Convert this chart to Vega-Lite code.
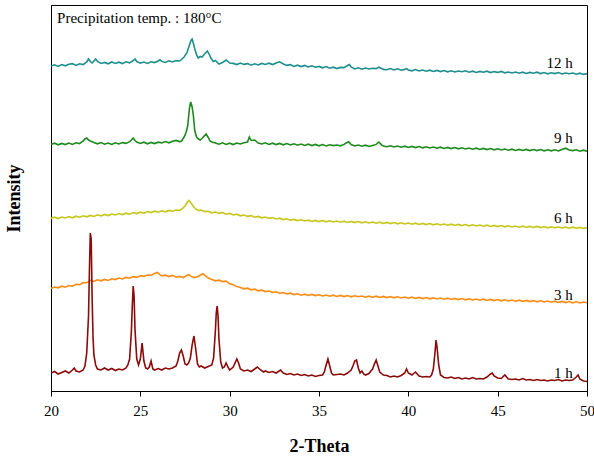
{
"$schema": "https://vega.github.io/schema/vega-lite/v6.json",
"width": 536, "height": 386,
"autosize": {"type": "none"},
"padding": {"left": 51, "top": 5, "right": 7, "bottom": 65},
"background": "white",
"config": {"view": {"stroke": "black", "strokeWidth": 1}, "font": "Liberation Serif"},
"datasets": {
"xrd": [
{"t":"12 h","x":20.0,"y":325},{"t":"12 h","x":20.2,"y":326.2},{"t":"12 h","x":20.4,"y":324.6},{"t":"12 h","x":20.6,"y":326.5},{"t":"12 h","x":20.8,"y":325.2},{"t":"12 h","x":21.0,"y":326.8},{"t":"12 h","x":21.2,"y":327.4},{"t":"12 h","x":21.4,"y":325.6},{"t":"12 h","x":21.6,"y":327.2},{"t":"12 h","x":21.8,"y":326.4},{"t":"12 h","x":22.0,"y":329},{"t":"12 h","x":22.1,"y":332},{"t":"12 h","x":22.2,"y":329.5},{"t":"12 h","x":22.3,"y":328},{"t":"12 h","x":22.4,"y":330},{"t":"12 h","x":22.5,"y":332},{"t":"12 h","x":22.6,"y":329.5},{"t":"12 h","x":22.8,"y":327.5},{"t":"12 h","x":23.0,"y":328.6},{"t":"12 h","x":23.2,"y":327.2},{"t":"12 h","x":23.4,"y":329},{"t":"12 h","x":23.6,"y":327.6},{"t":"12 h","x":23.8,"y":328.8},{"t":"12 h","x":24.0,"y":327.4},{"t":"12 h","x":24.2,"y":329.2},{"t":"12 h","x":24.4,"y":328.2},{"t":"12 h","x":24.6,"y":330.5},{"t":"12 h","x":24.7,"y":332},{"t":"12 h","x":24.8,"y":329.5},{"t":"12 h","x":25.0,"y":327.8},{"t":"12 h","x":25.2,"y":329},{"t":"12 h","x":25.4,"y":327.6},{"t":"12 h","x":25.6,"y":329.2},{"t":"12 h","x":25.8,"y":328.4},{"t":"12 h","x":26.0,"y":330},{"t":"12 h","x":26.1,"y":331.2},{"t":"12 h","x":26.2,"y":329.6},{"t":"12 h","x":26.4,"y":328.6},{"t":"12 h","x":26.6,"y":330.2},{"t":"12 h","x":26.8,"y":329},{"t":"12 h","x":27.0,"y":330.4},{"t":"12 h","x":27.2,"y":330},{"t":"12 h","x":27.3,"y":331.5},{"t":"12 h","x":27.45,"y":334},{"t":"12 h","x":27.6,"y":338},{"t":"12 h","x":27.75,"y":346},{"t":"12 h","x":27.85,"y":351},{"t":"12 h","x":27.9,"y":352},{"t":"12 h","x":27.95,"y":349},{"t":"12 h","x":28.05,"y":342},{"t":"12 h","x":28.15,"y":336},{"t":"12 h","x":28.24,"y":333},{"t":"12 h","x":28.35,"y":334.5},{"t":"12 h","x":28.45,"y":334},{"t":"12 h","x":28.6,"y":337},{"t":"12 h","x":28.75,"y":340},{"t":"12 h","x":28.85,"y":337},{"t":"12 h","x":28.95,"y":333},{"t":"12 h","x":29.08,"y":329.5},{"t":"12 h","x":29.2,"y":330.5},{"t":"12 h","x":29.4,"y":327},{"t":"12 h","x":29.6,"y":328.5},{"t":"12 h","x":29.8,"y":331},{"t":"12 h","x":30.0,"y":328},{"t":"12 h","x":30.2,"y":327.6},{"t":"12 h","x":30.4,"y":326.4},{"t":"12 h","x":30.6,"y":328},{"t":"12 h","x":30.8,"y":326.6},{"t":"12 h","x":31.0,"y":327.4},{"t":"12 h","x":31.2,"y":325.8},{"t":"12 h","x":31.4,"y":327.2},{"t":"12 h","x":31.6,"y":326},{"t":"12 h","x":31.8,"y":327.6},{"t":"12 h","x":32.0,"y":326.6},{"t":"12 h","x":32.2,"y":327.8},{"t":"12 h","x":32.4,"y":326.4},{"t":"12 h","x":32.6,"y":328},{"t":"12 h","x":32.8,"y":329.2},{"t":"12 h","x":33.0,"y":327},{"t":"12 h","x":33.2,"y":325.6},{"t":"12 h","x":33.4,"y":326.4},{"t":"12 h","x":33.6,"y":324.6},{"t":"12 h","x":33.8,"y":325.8},{"t":"12 h","x":34.0,"y":324.4},{"t":"12 h","x":34.2,"y":325.6},{"t":"12 h","x":34.4,"y":324},{"t":"12 h","x":34.6,"y":325.2},{"t":"12 h","x":34.8,"y":323.8},{"t":"12 h","x":35.0,"y":324.6},{"t":"12 h","x":35.2,"y":323.2},{"t":"12 h","x":35.4,"y":324.4},{"t":"12 h","x":35.6,"y":322.8},{"t":"12 h","x":35.8,"y":323.8},{"t":"12 h","x":36.0,"y":322.4},{"t":"12 h","x":36.2,"y":323.6},{"t":"12 h","x":36.4,"y":323.4},{"t":"12 h","x":36.6,"y":325.5},{"t":"12 h","x":36.7,"y":326.5},{"t":"12 h","x":36.8,"y":324},{"t":"12 h","x":37.0,"y":322},{"t":"12 h","x":37.2,"y":323.2},{"t":"12 h","x":37.4,"y":321.8},{"t":"12 h","x":37.6,"y":323},{"t":"12 h","x":37.8,"y":322},{"t":"12 h","x":38.0,"y":322.8},{"t":"12 h","x":38.2,"y":322.4},{"t":"12 h","x":38.35,"y":323.8},{"t":"12 h","x":38.5,"y":322.6},{"t":"12 h","x":38.6,"y":321.6},{"t":"12 h","x":38.8,"y":321.2},{"t":"12 h","x":39.0,"y":322.4},{"t":"12 h","x":39.2,"y":321},{"t":"12 h","x":39.4,"y":322.2},{"t":"12 h","x":39.6,"y":320.8},{"t":"12 h","x":39.8,"y":321.6},{"t":"12 h","x":39.9,"y":322.4},{"t":"12 h","x":40.0,"y":321},{"t":"12 h","x":40.2,"y":320.2},{"t":"12 h","x":40.4,"y":321.4},{"t":"12 h","x":40.6,"y":320},{"t":"12 h","x":40.8,"y":321},{"t":"12 h","x":41.0,"y":319.8},{"t":"12 h","x":41.2,"y":320.8},{"t":"12 h","x":41.4,"y":319.6},{"t":"12 h","x":41.6,"y":320.6},{"t":"12 h","x":41.8,"y":319.4},{"t":"12 h","x":42.0,"y":320.4},{"t":"12 h","x":42.2,"y":319.2},{"t":"12 h","x":42.4,"y":320.2},{"t":"12 h","x":42.6,"y":319},{"t":"12 h","x":42.8,"y":320},{"t":"12 h","x":43.0,"y":319.2},{"t":"12 h","x":43.2,"y":320.2},{"t":"12 h","x":43.4,"y":318.8},{"t":"12 h","x":43.6,"y":319.8},{"t":"12 h","x":43.8,"y":318.6},{"t":"12 h","x":44.0,"y":319.6},{"t":"12 h","x":44.2,"y":318.8},{"t":"12 h","x":44.4,"y":319.8},{"t":"12 h","x":44.6,"y":318.4},{"t":"12 h","x":44.8,"y":319.4},{"t":"12 h","x":45.0,"y":318.6},{"t":"12 h","x":45.2,"y":319.6},{"t":"12 h","x":45.4,"y":318.2},{"t":"12 h","x":45.6,"y":319},{"t":"12 h","x":45.8,"y":318},{"t":"12 h","x":46.0,"y":319},{"t":"12 h","x":46.2,"y":317.8},{"t":"12 h","x":46.4,"y":318.8},{"t":"12 h","x":46.6,"y":317.6},{"t":"12 h","x":46.8,"y":318.6},{"t":"12 h","x":47.0,"y":317.8},{"t":"12 h","x":47.2,"y":318.8},{"t":"12 h","x":47.4,"y":317.4},{"t":"12 h","x":47.6,"y":318.4},{"t":"12 h","x":47.8,"y":317.2},{"t":"12 h","x":48.0,"y":318.2},{"t":"12 h","x":48.2,"y":317.4},{"t":"12 h","x":48.4,"y":318.4},{"t":"12 h","x":48.6,"y":317},{"t":"12 h","x":48.8,"y":318},{"t":"12 h","x":49.0,"y":317.2},{"t":"12 h","x":49.2,"y":318},{"t":"12 h","x":49.4,"y":316.8},{"t":"12 h","x":49.6,"y":317.8},{"t":"12 h","x":49.8,"y":316.6},{"t":"12 h","x":50.0,"y":317.4},

{"t":"9 h","x":20.0,"y":246.5},{"t":"9 h","x":20.2,"y":247.8},{"t":"9 h","x":20.4,"y":246.2},{"t":"9 h","x":20.6,"y":247.6},{"t":"9 h","x":20.8,"y":246.4},{"t":"9 h","x":21.0,"y":248},{"t":"9 h","x":21.2,"y":246.6},{"t":"9 h","x":21.4,"y":248.2},{"t":"9 h","x":21.6,"y":247.4},{"t":"9 h","x":21.8,"y":250},{"t":"9 h","x":21.9,"y":252},{"t":"9 h","x":22.0,"y":253},{"t":"9 h","x":22.1,"y":251},{"t":"9 h","x":22.2,"y":250},{"t":"9 h","x":22.4,"y":248.6},{"t":"9 h","x":22.6,"y":247.2},{"t":"9 h","x":22.8,"y":248.4},{"t":"9 h","x":23.0,"y":246.8},{"t":"9 h","x":23.2,"y":248},{"t":"9 h","x":23.4,"y":246.6},{"t":"9 h","x":23.6,"y":248.2},{"t":"9 h","x":23.8,"y":247},{"t":"9 h","x":24.0,"y":248.4},{"t":"9 h","x":24.2,"y":247.6},{"t":"9 h","x":24.4,"y":249.4},{"t":"9 h","x":24.5,"y":251},{"t":"9 h","x":24.6,"y":253},{"t":"9 h","x":24.7,"y":250.5},{"t":"9 h","x":24.8,"y":249},{"t":"9 h","x":25.0,"y":247.6},{"t":"9 h","x":25.2,"y":248.8},{"t":"9 h","x":25.4,"y":247.2},{"t":"9 h","x":25.6,"y":248.6},{"t":"9 h","x":25.8,"y":247.4},{"t":"9 h","x":26.0,"y":248.8},{"t":"9 h","x":26.2,"y":248},{"t":"9 h","x":26.4,"y":249.4},{"t":"9 h","x":26.6,"y":248.2},{"t":"9 h","x":26.8,"y":249.8},{"t":"9 h","x":27.0,"y":250.6},{"t":"9 h","x":27.2,"y":249.4},{"t":"9 h","x":27.3,"y":249.8},{"t":"9 h","x":27.45,"y":254},{"t":"9 h","x":27.55,"y":258},{"t":"9 h","x":27.65,"y":265},{"t":"9 h","x":27.75,"y":283},{"t":"9 h","x":27.82,"y":289},{"t":"9 h","x":27.9,"y":284},{"t":"9 h","x":27.97,"y":275},{"t":"9 h","x":28.05,"y":260},{"t":"9 h","x":28.15,"y":254},{"t":"9 h","x":28.25,"y":252},{"t":"9 h","x":28.35,"y":251},{"t":"9 h","x":28.45,"y":252.5},{"t":"9 h","x":28.55,"y":254.5},{"t":"9 h","x":28.68,"y":257},{"t":"9 h","x":28.8,"y":253.5},{"t":"9 h","x":28.9,"y":250},{"t":"9 h","x":29.0,"y":249},{"t":"9 h","x":29.2,"y":248},{"t":"9 h","x":29.4,"y":246.8},{"t":"9 h","x":29.6,"y":248.2},{"t":"9 h","x":29.8,"y":246.6},{"t":"9 h","x":30.0,"y":247.8},{"t":"9 h","x":30.2,"y":246.4},{"t":"9 h","x":30.4,"y":248},{"t":"9 h","x":30.6,"y":247},{"t":"9 h","x":30.8,"y":248.2},{"t":"9 h","x":31.0,"y":249},{"t":"9 h","x":31.1,"y":254},{"t":"9 h","x":31.2,"y":250.5},{"t":"9 h","x":31.4,"y":251},{"t":"9 h","x":31.6,"y":248},{"t":"9 h","x":31.8,"y":247},{"t":"9 h","x":32.0,"y":248.2},{"t":"9 h","x":32.2,"y":246.6},{"t":"9 h","x":32.4,"y":247.8},{"t":"9 h","x":32.6,"y":246.4},{"t":"9 h","x":32.8,"y":247.6},{"t":"9 h","x":33.0,"y":246.2},{"t":"9 h","x":33.2,"y":247.4},{"t":"9 h","x":33.4,"y":246},{"t":"9 h","x":33.6,"y":247.2},{"t":"9 h","x":33.8,"y":245.8},{"t":"9 h","x":34.0,"y":247},{"t":"9 h","x":34.2,"y":245.6},{"t":"9 h","x":34.4,"y":246.8},{"t":"9 h","x":34.6,"y":245.4},{"t":"9 h","x":34.8,"y":246.6},{"t":"9 h","x":35.0,"y":245.2},{"t":"9 h","x":35.2,"y":246.4},{"t":"9 h","x":35.4,"y":245},{"t":"9 h","x":35.6,"y":246.2},{"t":"9 h","x":35.8,"y":245.4},{"t":"9 h","x":36.0,"y":246},{"t":"9 h","x":36.2,"y":245.2},{"t":"9 h","x":36.4,"y":246.6},{"t":"9 h","x":36.55,"y":248.2},{"t":"9 h","x":36.65,"y":249.2},{"t":"9 h","x":36.8,"y":246.4},{"t":"9 h","x":37.0,"y":245},{"t":"9 h","x":37.2,"y":246},{"t":"9 h","x":37.4,"y":244.8},{"t":"9 h","x":37.6,"y":245.8},{"t":"9 h","x":37.8,"y":244.6},{"t":"9 h","x":38.0,"y":245.6},{"t":"9 h","x":38.2,"y":246.6},{"t":"9 h","x":38.35,"y":249},{"t":"9 h","x":38.5,"y":246.2},{"t":"9 h","x":38.6,"y":245},{"t":"9 h","x":38.8,"y":244.2},{"t":"9 h","x":39.0,"y":245.2},{"t":"9 h","x":39.2,"y":244},{"t":"9 h","x":39.4,"y":245},{"t":"9 h","x":39.6,"y":243.8},{"t":"9 h","x":39.8,"y":244.8},{"t":"9 h","x":40.0,"y":243.6},{"t":"9 h","x":40.2,"y":244.6},{"t":"9 h","x":40.4,"y":243.4},{"t":"9 h","x":40.6,"y":244.4},{"t":"9 h","x":40.8,"y":243.2},{"t":"9 h","x":41.0,"y":244.2},{"t":"9 h","x":41.2,"y":243},{"t":"9 h","x":41.4,"y":244},{"t":"9 h","x":41.6,"y":242.8},{"t":"9 h","x":41.8,"y":243.8},{"t":"9 h","x":42.0,"y":242.6},{"t":"9 h","x":42.2,"y":243.6},{"t":"9 h","x":42.4,"y":242.4},{"t":"9 h","x":42.6,"y":243.4},{"t":"9 h","x":42.8,"y":242.2},{"t":"9 h","x":43.0,"y":243.2},{"t":"9 h","x":43.2,"y":242},{"t":"9 h","x":43.4,"y":243},{"t":"9 h","x":43.6,"y":241.8},{"t":"9 h","x":43.8,"y":242.8},{"t":"9 h","x":44.0,"y":241.6},{"t":"9 h","x":44.2,"y":242.6},{"t":"9 h","x":44.4,"y":241.4},{"t":"9 h","x":44.6,"y":242.4},{"t":"9 h","x":44.8,"y":241.2},{"t":"9 h","x":45.0,"y":242.2},{"t":"9 h","x":45.2,"y":241},{"t":"9 h","x":45.4,"y":242},{"t":"9 h","x":45.6,"y":240.8},{"t":"9 h","x":45.8,"y":241.8},{"t":"9 h","x":46.0,"y":240.6},{"t":"9 h","x":46.2,"y":241.6},{"t":"9 h","x":46.4,"y":240.6},{"t":"9 h","x":46.6,"y":241.6},{"t":"9 h","x":46.8,"y":240.4},{"t":"9 h","x":47.0,"y":241.4},{"t":"9 h","x":47.2,"y":240.4},{"t":"9 h","x":47.4,"y":241.4},{"t":"9 h","x":47.6,"y":240.2},{"t":"9 h","x":47.8,"y":241.2},{"t":"9 h","x":48.0,"y":240.2},{"t":"9 h","x":48.2,"y":241.2},{"t":"9 h","x":48.4,"y":240},{"t":"9 h","x":48.6,"y":241.4},{"t":"9 h","x":48.8,"y":242.8},{"t":"9 h","x":49.0,"y":241},{"t":"9 h","x":49.2,"y":240.4},{"t":"9 h","x":49.4,"y":241.2},{"t":"9 h","x":49.6,"y":239.8},{"t":"9 h","x":49.8,"y":240.8},{"t":"9 h","x":50.0,"y":239.8},

{"t":"6 h","x":20.0,"y":172.6},{"t":"6 h","x":20.2,"y":173.8},{"t":"6 h","x":20.4,"y":172.4},{"t":"6 h","x":20.6,"y":174},{"t":"6 h","x":20.8,"y":173},{"t":"6 h","x":21.0,"y":174.4},{"t":"6 h","x":21.2,"y":173.2},{"t":"6 h","x":21.4,"y":174.8},{"t":"6 h","x":21.6,"y":173.8},{"t":"6 h","x":21.8,"y":175.2},{"t":"6 h","x":22.0,"y":174.2},{"t":"6 h","x":22.2,"y":175.6},{"t":"6 h","x":22.4,"y":174.6},{"t":"6 h","x":22.6,"y":176.2},{"t":"6 h","x":22.8,"y":175},{"t":"6 h","x":23.0,"y":176.6},{"t":"6 h","x":23.2,"y":175.4},{"t":"6 h","x":23.4,"y":177},{"t":"6 h","x":23.6,"y":176},{"t":"6 h","x":23.8,"y":177.4},{"t":"6 h","x":24.0,"y":176.4},{"t":"6 h","x":24.2,"y":177.8},{"t":"6 h","x":24.4,"y":176.8},{"t":"6 h","x":24.6,"y":178.4},{"t":"6 h","x":24.8,"y":177.4},{"t":"6 h","x":25.0,"y":178.8},{"t":"6 h","x":25.2,"y":177.8},{"t":"6 h","x":25.4,"y":179.4},{"t":"6 h","x":25.6,"y":178.4},{"t":"6 h","x":25.8,"y":179.8},{"t":"6 h","x":26.0,"y":178.8},{"t":"6 h","x":26.2,"y":180.2},{"t":"6 h","x":26.4,"y":179.2},{"t":"6 h","x":26.6,"y":180.6},{"t":"6 h","x":26.8,"y":179.8},{"t":"6 h","x":27.0,"y":181},{"t":"6 h","x":27.2,"y":180.6},{"t":"6 h","x":27.35,"y":182.4},{"t":"6 h","x":27.5,"y":185},{"t":"6 h","x":27.62,"y":188.5},{"t":"6 h","x":27.72,"y":190.5},{"t":"6 h","x":27.82,"y":188.5},{"t":"6 h","x":27.95,"y":185},{"t":"6 h","x":28.1,"y":182},{"t":"6 h","x":28.25,"y":180.4},{"t":"6 h","x":28.4,"y":181},{"t":"6 h","x":28.6,"y":179.4},{"t":"6 h","x":28.8,"y":179.8},{"t":"6 h","x":29.0,"y":178.2},{"t":"6 h","x":29.2,"y":179},{"t":"6 h","x":29.4,"y":177.6},{"t":"6 h","x":29.6,"y":178.4},{"t":"6 h","x":29.8,"y":176.8},{"t":"6 h","x":30.0,"y":177.6},{"t":"6 h","x":30.2,"y":176},{"t":"6 h","x":30.4,"y":176.8},{"t":"6 h","x":30.6,"y":175.2},{"t":"6 h","x":30.8,"y":176},{"t":"6 h","x":31.0,"y":174.6},{"t":"6 h","x":31.2,"y":175.4},{"t":"6 h","x":31.4,"y":173.8},{"t":"6 h","x":31.6,"y":174.6},{"t":"6 h","x":31.8,"y":173.2},{"t":"6 h","x":32.0,"y":174},{"t":"6 h","x":32.2,"y":172.6},{"t":"6 h","x":32.4,"y":173.4},{"t":"6 h","x":32.6,"y":172},{"t":"6 h","x":32.8,"y":172.8},{"t":"6 h","x":33.0,"y":171.4},{"t":"6 h","x":33.2,"y":172.2},{"t":"6 h","x":33.4,"y":170.8},{"t":"6 h","x":33.6,"y":171.6},{"t":"6 h","x":33.8,"y":170.4},{"t":"6 h","x":34.0,"y":171.2},{"t":"6 h","x":34.2,"y":170},{"t":"6 h","x":34.4,"y":170.8},{"t":"6 h","x":34.6,"y":169.6},{"t":"6 h","x":34.8,"y":170.6},{"t":"6 h","x":35.0,"y":169.4},{"t":"6 h","x":35.2,"y":170.4},{"t":"6 h","x":35.4,"y":169.2},{"t":"6 h","x":35.6,"y":170.2},{"t":"6 h","x":35.8,"y":169},{"t":"6 h","x":36.0,"y":170},{"t":"6 h","x":36.2,"y":168.8},{"t":"6 h","x":36.4,"y":169.8},{"t":"6 h","x":36.6,"y":168.6},{"t":"6 h","x":36.8,"y":169.6},{"t":"6 h","x":37.0,"y":168.4},{"t":"6 h","x":37.2,"y":169.4},{"t":"6 h","x":37.4,"y":168.2},{"t":"6 h","x":37.6,"y":169.2},{"t":"6 h","x":37.8,"y":168},{"t":"6 h","x":38.0,"y":169},{"t":"6 h","x":38.2,"y":167.8},{"t":"6 h","x":38.4,"y":168.8},{"t":"6 h","x":38.6,"y":167.6},{"t":"6 h","x":38.8,"y":168.6},{"t":"6 h","x":39.0,"y":167.4},{"t":"6 h","x":39.2,"y":168.4},{"t":"6 h","x":39.4,"y":167.2},{"t":"6 h","x":39.6,"y":168.2},{"t":"6 h","x":39.8,"y":167},{"t":"6 h","x":40.0,"y":168},{"t":"6 h","x":40.2,"y":166.8},{"t":"6 h","x":40.4,"y":167.8},{"t":"6 h","x":40.6,"y":166.6},{"t":"6 h","x":40.8,"y":167.6},{"t":"6 h","x":41.0,"y":166.4},{"t":"6 h","x":41.2,"y":167.4},{"t":"6 h","x":41.4,"y":166.2},{"t":"6 h","x":41.6,"y":167.2},{"t":"6 h","x":41.8,"y":166},{"t":"6 h","x":42.0,"y":167},{"t":"6 h","x":42.2,"y":165.8},{"t":"6 h","x":42.4,"y":166.8},{"t":"6 h","x":42.6,"y":165.6},{"t":"6 h","x":42.8,"y":166.6},{"t":"6 h","x":43.0,"y":165.4},{"t":"6 h","x":43.2,"y":166.4},{"t":"6 h","x":43.4,"y":165.2},{"t":"6 h","x":43.6,"y":166.2},{"t":"6 h","x":43.8,"y":165},{"t":"6 h","x":44.0,"y":166},{"t":"6 h","x":44.2,"y":164.8},{"t":"6 h","x":44.4,"y":165.8},{"t":"6 h","x":44.6,"y":164.6},{"t":"6 h","x":44.8,"y":165.6},{"t":"6 h","x":45.0,"y":164.4},{"t":"6 h","x":45.2,"y":165.4},{"t":"6 h","x":45.4,"y":164.2},{"t":"6 h","x":45.6,"y":165.2},{"t":"6 h","x":45.8,"y":164},{"t":"6 h","x":46.0,"y":165},{"t":"6 h","x":46.2,"y":163.8},{"t":"6 h","x":46.4,"y":164.8},{"t":"6 h","x":46.6,"y":163.8},{"t":"6 h","x":46.8,"y":164.6},{"t":"6 h","x":47.0,"y":163.6},{"t":"6 h","x":47.2,"y":164.6},{"t":"6 h","x":47.4,"y":163.4},{"t":"6 h","x":47.6,"y":164.4},{"t":"6 h","x":47.8,"y":163.2},{"t":"6 h","x":48.0,"y":164.2},{"t":"6 h","x":48.2,"y":163.2},{"t":"6 h","x":48.4,"y":164},{"t":"6 h","x":48.6,"y":163},{"t":"6 h","x":48.8,"y":164},{"t":"6 h","x":49.0,"y":162.8},{"t":"6 h","x":49.2,"y":163.8},{"t":"6 h","x":49.4,"y":162.8},{"t":"6 h","x":49.6,"y":163.6},{"t":"6 h","x":49.8,"y":162.6},{"t":"6 h","x":50.0,"y":163.4},

{"t":"3 h","x":20.0,"y":102.6},{"t":"3 h","x":20.2,"y":104},{"t":"3 h","x":20.4,"y":103.2},{"t":"3 h","x":20.6,"y":104.8},{"t":"3 h","x":20.8,"y":103.8},{"t":"3 h","x":21.0,"y":105.4},{"t":"3 h","x":21.2,"y":104.8},{"t":"3 h","x":21.4,"y":106.6},{"t":"3 h","x":21.6,"y":106.4},{"t":"3 h","x":21.8,"y":108.4},{"t":"3 h","x":22.0,"y":108.2},{"t":"3 h","x":22.2,"y":110.6},{"t":"3 h","x":22.4,"y":109.6},{"t":"3 h","x":22.6,"y":111.2},{"t":"3 h","x":22.8,"y":110.2},{"t":"3 h","x":23.0,"y":111.6},{"t":"3 h","x":23.2,"y":110.6},{"t":"3 h","x":23.4,"y":112.2},{"t":"3 h","x":23.6,"y":111.4},{"t":"3 h","x":23.8,"y":113},{"t":"3 h","x":24.0,"y":112},{"t":"3 h","x":24.2,"y":113.6},{"t":"3 h","x":24.4,"y":112.8},{"t":"3 h","x":24.6,"y":114.4},{"t":"3 h","x":24.8,"y":113.6},{"t":"3 h","x":25.0,"y":115.2},{"t":"3 h","x":25.2,"y":114.6},{"t":"3 h","x":25.4,"y":116},{"t":"3 h","x":25.6,"y":115.8},{"t":"3 h","x":25.8,"y":117.6},{"t":"3 h","x":25.95,"y":118.6},{"t":"3 h","x":26.1,"y":116.4},{"t":"3 h","x":26.2,"y":115.2},{"t":"3 h","x":26.4,"y":115.8},{"t":"3 h","x":26.6,"y":114.4},{"t":"3 h","x":26.8,"y":115.6},{"t":"3 h","x":27.0,"y":113.8},{"t":"3 h","x":27.2,"y":114.6},{"t":"3 h","x":27.4,"y":113.4},{"t":"3 h","x":27.55,"y":115},{"t":"3 h","x":27.7,"y":116.4},{"t":"3 h","x":27.85,"y":114.6},{"t":"3 h","x":28.0,"y":113.4},{"t":"3 h","x":28.2,"y":114.2},{"t":"3 h","x":28.35,"y":115.8},{"t":"3 h","x":28.5,"y":117.2},{"t":"3 h","x":28.65,"y":115.2},{"t":"3 h","x":28.8,"y":113},{"t":"3 h","x":29.0,"y":111.6},{"t":"3 h","x":29.2,"y":110.2},{"t":"3 h","x":29.4,"y":110.8},{"t":"3 h","x":29.6,"y":109.4},{"t":"3 h","x":29.8,"y":109.8},{"t":"3 h","x":30.0,"y":107.2},{"t":"3 h","x":30.2,"y":106.2},{"t":"3 h","x":30.4,"y":104.4},{"t":"3 h","x":30.6,"y":103.6},{"t":"3 h","x":30.8,"y":102.2},{"t":"3 h","x":31.0,"y":102.8},{"t":"3 h","x":31.2,"y":101.2},{"t":"3 h","x":31.4,"y":101.8},{"t":"3 h","x":31.6,"y":100.2},{"t":"3 h","x":31.8,"y":100.8},{"t":"3 h","x":32.0,"y":99.4},{"t":"3 h","x":32.2,"y":100},{"t":"3 h","x":32.4,"y":98.6},{"t":"3 h","x":32.6,"y":99.2},{"t":"3 h","x":32.8,"y":97.8},{"t":"3 h","x":33.0,"y":98.4},{"t":"3 h","x":33.2,"y":97},{"t":"3 h","x":33.4,"y":97.8},{"t":"3 h","x":33.6,"y":96.4},{"t":"3 h","x":33.8,"y":97.2},{"t":"3 h","x":34.0,"y":95.8},{"t":"3 h","x":34.2,"y":96.8},{"t":"3 h","x":34.4,"y":95.6},{"t":"3 h","x":34.6,"y":96.6},{"t":"3 h","x":34.8,"y":95.4},{"t":"3 h","x":35.0,"y":96.2},{"t":"3 h","x":35.2,"y":95},{"t":"3 h","x":35.4,"y":96},{"t":"3 h","x":35.6,"y":94.8},{"t":"3 h","x":35.8,"y":95.8},{"t":"3 h","x":36.0,"y":94.6},{"t":"3 h","x":36.2,"y":95.6},{"t":"3 h","x":36.4,"y":94.4},{"t":"3 h","x":36.6,"y":95.4},{"t":"3 h","x":36.8,"y":94.2},{"t":"3 h","x":37.0,"y":95.2},{"t":"3 h","x":37.2,"y":94.2},{"t":"3 h","x":37.4,"y":95},{"t":"3 h","x":37.6,"y":93.8},{"t":"3 h","x":37.8,"y":94.8},{"t":"3 h","x":38.0,"y":93.8},{"t":"3 h","x":38.2,"y":94.8},{"t":"3 h","x":38.4,"y":93.6},{"t":"3 h","x":38.6,"y":94.6},{"t":"3 h","x":38.8,"y":93.4},{"t":"3 h","x":39.0,"y":94.4},{"t":"3 h","x":39.2,"y":93.2},{"t":"3 h","x":39.4,"y":94.2},{"t":"3 h","x":39.6,"y":93},{"t":"3 h","x":39.8,"y":94},{"t":"3 h","x":40.0,"y":92.8},{"t":"3 h","x":40.2,"y":93.8},{"t":"3 h","x":40.4,"y":92.6},{"t":"3 h","x":40.6,"y":93.6},{"t":"3 h","x":40.8,"y":92.4},{"t":"3 h","x":41.0,"y":93.4},{"t":"3 h","x":41.2,"y":92.2},{"t":"3 h","x":41.4,"y":93.2},{"t":"3 h","x":41.6,"y":92},{"t":"3 h","x":41.8,"y":93},{"t":"3 h","x":42.0,"y":91.8},{"t":"3 h","x":42.2,"y":92.8},{"t":"3 h","x":42.4,"y":91.6},{"t":"3 h","x":42.6,"y":92.6},{"t":"3 h","x":42.8,"y":91.4},{"t":"3 h","x":43.0,"y":92.4},{"t":"3 h","x":43.2,"y":91.2},{"t":"3 h","x":43.4,"y":92.2},{"t":"3 h","x":43.6,"y":91},{"t":"3 h","x":43.8,"y":92},{"t":"3 h","x":44.0,"y":90.8},{"t":"3 h","x":44.2,"y":91.8},{"t":"3 h","x":44.4,"y":90.6},{"t":"3 h","x":44.6,"y":91.6},{"t":"3 h","x":44.8,"y":90.4},{"t":"3 h","x":45.0,"y":91.4},{"t":"3 h","x":45.2,"y":90.2},{"t":"3 h","x":45.4,"y":91.2},{"t":"3 h","x":45.6,"y":90},{"t":"3 h","x":45.8,"y":91},{"t":"3 h","x":46.0,"y":89.8},{"t":"3 h","x":46.2,"y":90.8},{"t":"3 h","x":46.4,"y":89.6},{"t":"3 h","x":46.6,"y":90.6},{"t":"3 h","x":46.8,"y":89.4},{"t":"3 h","x":47.0,"y":90.4},{"t":"3 h","x":47.2,"y":89.2},{"t":"3 h","x":47.4,"y":90.2},{"t":"3 h","x":47.6,"y":89},{"t":"3 h","x":47.8,"y":90},{"t":"3 h","x":48.0,"y":88.8},{"t":"3 h","x":48.2,"y":89.8},{"t":"3 h","x":48.4,"y":88.6},{"t":"3 h","x":48.6,"y":89.6},{"t":"3 h","x":48.8,"y":88.4},{"t":"3 h","x":49.0,"y":89.4},{"t":"3 h","x":49.2,"y":88.2},{"t":"3 h","x":49.4,"y":89.2},{"t":"3 h","x":49.6,"y":88},{"t":"3 h","x":49.8,"y":89},{"t":"3 h","x":50.0,"y":88.2},

{"t":"1 h","x":20.0,"y":18},{"t":"1 h","x":20.2,"y":19.5},{"t":"1 h","x":20.4,"y":17},{"t":"1 h","x":20.6,"y":18.5},{"t":"1 h","x":20.8,"y":20},{"t":"1 h","x":21.0,"y":18},{"t":"1 h","x":21.2,"y":21},{"t":"1 h","x":21.3,"y":23},{"t":"1 h","x":21.4,"y":20},{"t":"1 h","x":21.6,"y":19},{"t":"1 h","x":21.8,"y":21},{"t":"1 h","x":21.9,"y":25},{"t":"1 h","x":22.0,"y":38},{"t":"1 h","x":22.1,"y":75},{"t":"1 h","x":22.15,"y":120},{"t":"1 h","x":22.2,"y":158},{"t":"1 h","x":22.25,"y":152},{"t":"1 h","x":22.3,"y":95},{"t":"1 h","x":22.35,"y":55},{"t":"1 h","x":22.4,"y":36},{"t":"1 h","x":22.5,"y":26},{"t":"1 h","x":22.6,"y":22},{"t":"1 h","x":22.8,"y":21},{"t":"1 h","x":23.0,"y":23},{"t":"1 h","x":23.2,"y":21},{"t":"1 h","x":23.4,"y":22.5},{"t":"1 h","x":23.6,"y":20.5},{"t":"1 h","x":23.8,"y":22},{"t":"1 h","x":24.0,"y":21},{"t":"1 h","x":24.2,"y":23},{"t":"1 h","x":24.3,"y":26},{"t":"1 h","x":24.4,"y":32},{"t":"1 h","x":24.5,"y":60},{"t":"1 h","x":24.55,"y":85},{"t":"1 h","x":24.6,"y":105},{"t":"1 h","x":24.65,"y":95},{"t":"1 h","x":24.7,"y":62},{"t":"1 h","x":24.8,"y":32},{"t":"1 h","x":24.9,"y":26},{"t":"1 h","x":25.0,"y":32},{"t":"1 h","x":25.1,"y":48},{"t":"1 h","x":25.2,"y":30},{"t":"1 h","x":25.3,"y":23},{"t":"1 h","x":25.4,"y":22},{"t":"1 h","x":25.5,"y":24},{"t":"1 h","x":25.6,"y":30},{"t":"1 h","x":25.7,"y":22},{"t":"1 h","x":25.8,"y":21},{"t":"1 h","x":26.0,"y":22.5},{"t":"1 h","x":26.2,"y":21},{"t":"1 h","x":26.4,"y":23},{"t":"1 h","x":26.6,"y":22},{"t":"1 h","x":26.8,"y":23},{"t":"1 h","x":27.0,"y":25},{"t":"1 h","x":27.1,"y":30},{"t":"1 h","x":27.2,"y":38},{"t":"1 h","x":27.3,"y":41},{"t":"1 h","x":27.4,"y":35},{"t":"1 h","x":27.5,"y":27},{"t":"1 h","x":27.6,"y":26},{"t":"1 h","x":27.7,"y":28},{"t":"1 h","x":27.8,"y":33},{"t":"1 h","x":27.9,"y":46},{"t":"1 h","x":28.0,"y":55},{"t":"1 h","x":28.1,"y":42},{"t":"1 h","x":28.2,"y":27},{"t":"1 h","x":28.3,"y":24},{"t":"1 h","x":28.4,"y":25},{"t":"1 h","x":28.6,"y":23},{"t":"1 h","x":28.8,"y":24.5},{"t":"1 h","x":29.0,"y":26},{"t":"1 h","x":29.1,"y":33},{"t":"1 h","x":29.2,"y":60},{"t":"1 h","x":29.25,"y":78},{"t":"1 h","x":29.3,"y":85},{"t":"1 h","x":29.35,"y":75},{"t":"1 h","x":29.4,"y":52},{"t":"1 h","x":29.5,"y":29},{"t":"1 h","x":29.6,"y":23},{"t":"1 h","x":29.7,"y":24},{"t":"1 h","x":29.8,"y":28},{"t":"1 h","x":29.9,"y":24},{"t":"1 h","x":30.0,"y":21},{"t":"1 h","x":30.2,"y":24},{"t":"1 h","x":30.4,"y":32},{"t":"1 h","x":30.5,"y":28},{"t":"1 h","x":30.6,"y":22},{"t":"1 h","x":30.8,"y":20},{"t":"1 h","x":31.0,"y":21},{"t":"1 h","x":31.2,"y":19.5},{"t":"1 h","x":31.4,"y":22},{"t":"1 h","x":31.55,"y":24},{"t":"1 h","x":31.7,"y":21.5},{"t":"1 h","x":31.9,"y":19},{"t":"1 h","x":32.0,"y":20},{"t":"1 h","x":32.2,"y":18.5},{"t":"1 h","x":32.4,"y":19.5},{"t":"1 h","x":32.6,"y":18},{"t":"1 h","x":32.85,"y":21},{"t":"1 h","x":33.0,"y":18},{"t":"1 h","x":33.2,"y":16.5},{"t":"1 h","x":33.4,"y":17.5},{"t":"1 h","x":33.6,"y":16},{"t":"1 h","x":33.8,"y":17},{"t":"1 h","x":34.0,"y":15.5},{"t":"1 h","x":34.2,"y":16.5},{"t":"1 h","x":34.4,"y":15},{"t":"1 h","x":34.6,"y":16},{"t":"1 h","x":34.8,"y":14.5},{"t":"1 h","x":35.0,"y":15.5},{"t":"1 h","x":35.2,"y":16},{"t":"1 h","x":35.3,"y":19},{"t":"1 h","x":35.4,"y":26},{"t":"1 h","x":35.5,"y":32},{"t":"1 h","x":35.6,"y":25},{"t":"1 h","x":35.7,"y":18},{"t":"1 h","x":35.8,"y":16},{"t":"1 h","x":36.0,"y":16.5},{"t":"1 h","x":36.2,"y":17},{"t":"1 h","x":36.4,"y":16},{"t":"1 h","x":36.6,"y":18},{"t":"1 h","x":36.8,"y":21},{"t":"1 h","x":36.9,"y":25},{"t":"1 h","x":37.0,"y":30},{"t":"1 h","x":37.1,"y":31},{"t":"1 h","x":37.2,"y":23},{"t":"1 h","x":37.3,"y":18},{"t":"1 h","x":37.4,"y":20},{"t":"1 h","x":37.5,"y":17},{"t":"1 h","x":37.6,"y":16},{"t":"1 h","x":37.8,"y":17.5},{"t":"1 h","x":37.9,"y":20},{"t":"1 h","x":38.0,"y":22},{"t":"1 h","x":38.1,"y":27},{"t":"1 h","x":38.2,"y":31},{"t":"1 h","x":38.3,"y":25},{"t":"1 h","x":38.4,"y":19},{"t":"1 h","x":38.6,"y":16},{"t":"1 h","x":38.8,"y":15.5},{"t":"1 h","x":39.0,"y":14},{"t":"1 h","x":39.2,"y":15},{"t":"1 h","x":39.4,"y":14},{"t":"1 h","x":39.6,"y":15.5},{"t":"1 h","x":39.8,"y":18},{"t":"1 h","x":39.9,"y":22},{"t":"1 h","x":40.0,"y":18},{"t":"1 h","x":40.2,"y":16},{"t":"1 h","x":40.4,"y":19},{"t":"1 h","x":40.6,"y":15},{"t":"1 h","x":40.8,"y":14},{"t":"1 h","x":41.0,"y":14.5},{"t":"1 h","x":41.2,"y":14},{"t":"1 h","x":41.3,"y":16},{"t":"1 h","x":41.4,"y":22},{"t":"1 h","x":41.5,"y":40},{"t":"1 h","x":41.55,"y":51},{"t":"1 h","x":41.6,"y":45},{"t":"1 h","x":41.7,"y":26},{"t":"1 h","x":41.8,"y":16},{"t":"1 h","x":42.0,"y":13.5},{"t":"1 h","x":42.2,"y":13},{"t":"1 h","x":42.4,"y":14},{"t":"1 h","x":42.6,"y":12.5},{"t":"1 h","x":42.8,"y":13.5},{"t":"1 h","x":43.0,"y":12},{"t":"1 h","x":43.2,"y":13},{"t":"1 h","x":43.4,"y":12},{"t":"1 h","x":43.6,"y":13.5},{"t":"1 h","x":43.8,"y":12},{"t":"1 h","x":44.0,"y":12.5},{"t":"1 h","x":44.2,"y":12},{"t":"1 h","x":44.4,"y":14},{"t":"1 h","x":44.6,"y":17},{"t":"1 h","x":44.7,"y":18},{"t":"1 h","x":44.8,"y":15},{"t":"1 h","x":45.0,"y":13},{"t":"1 h","x":45.2,"y":12.5},{"t":"1 h","x":45.4,"y":16},{"t":"1 h","x":45.6,"y":12},{"t":"1 h","x":45.8,"y":11.5},{"t":"1 h","x":46.0,"y":12},{"t":"1 h","x":46.2,"y":11},{"t":"1 h","x":46.4,"y":12.5},{"t":"1 h","x":46.6,"y":11},{"t":"1 h","x":46.8,"y":11.5},{"t":"1 h","x":47.0,"y":10.5},{"t":"1 h","x":47.2,"y":11.5},{"t":"1 h","x":47.4,"y":10.5},{"t":"1 h","x":47.6,"y":11},{"t":"1 h","x":47.8,"y":10},{"t":"1 h","x":48.0,"y":11},{"t":"1 h","x":48.2,"y":10.5},{"t":"1 h","x":48.4,"y":11.5},{"t":"1 h","x":48.6,"y":10},{"t":"1 h","x":48.8,"y":11},{"t":"1 h","x":49.0,"y":10.5},{"t":"1 h","x":49.2,"y":11},{"t":"1 h","x":49.4,"y":14},{"t":"1 h","x":49.5,"y":16},{"t":"1 h","x":49.6,"y":12},{"t":"1 h","x":49.8,"y":10},{"t":"1 h","x":50.0,"y":9.5}
],
"labels": [
{"label":"12 h","x":49.2,"y":328},
{"label":"9 h","x":49.2,"y":253},
{"label":"6 h","x":49.2,"y":173},
{"label":"3 h","x":49.2,"y":96},
{"label":"1 h","x":49.2,"y":18.3}
],
"note": [
{"label":"Precipitation temp. : 180°C","x":20.34,"y":373}
]
},
"layer": [
{
"data": {"name": "xrd"},
"transform": [{"filter": "datum.t !== '1 h'"}],
"mark": {"type": "line", "strokeWidth": 1.6, "clip": true},
"encoding": {
"x": {"field": "x", "type": "quantitative", "scale": {"domain": [20, 50], "nice": false, "zero": false},
"axis": {"title": "2-Theta", "values": [20,25,30,35,40,45,50], "grid": false, "tickSize": 5, "tickColor": "black", "domainColor": "black", "labelColor": "black", "labelFont": "Liberation Serif", "labelFontSize": 15, "labelPadding": 7, "labelFlush": false, "titleFont": "Liberation Serif", "titleFontSize": 18, "titleFontWeight": "bold", "titleColor": "black", "titleBaseline": "alphabetic", "titleY": 60}},
"y": {"field": "y", "type": "quantitative", "scale": {"domain": [0, 386], "nice": false, "zero": false},
"axis": {"title": "Intensity", "labels": false, "ticks": false, "grid": false, "domainColor": "black", "titleFont": "Liberation Serif", "titleFontSize": 18, "titleFontWeight": "bold", "titleColor": "black", "titleAngle": 270, "titleAlign": "center", "titleBaseline": "alphabetic", "titleX": -31.5, "titleY": 193}},
"color": {"field": "t", "type": "nominal", "scale": {"domain": ["12 h", "9 h", "6 h", "3 h", "1 h"], "range": ["#1e8e8e", "#1c8a1c", "#c6c61a", "#ff8a10", "#8b0a0a"]}, "legend": null}
}
},
{
"data": {"name": "xrd"},
"transform": [{"filter": "datum.t === '1 h'"}],
"mark": {"type": "line", "strokeWidth": 1.6, "clip": true},
"encoding": {
"x": {"field": "x", "type": "quantitative"},
"y": {"field": "y", "type": "quantitative"},
"color": {"field": "t", "type": "nominal", "legend": null}
}
},
{
"data": {"name": "labels"},
"mark": {"type": "text", "align": "right", "baseline": "middle", "font": "Liberation Serif", "fontSize": 15, "color": "black"},
"encoding": {
"x": {"field": "x", "type": "quantitative"},
"y": {"field": "y", "type": "quantitative"},
"text": {"field": "label"}
}
},
{
"data": {"name": "note"},
"mark": {"type": "text", "align": "left", "baseline": "middle", "font": "Liberation Serif", "fontSize": 15, "color": "black"},
"encoding": {
"x": {"field": "x", "type": "quantitative"},
"y": {"field": "y", "type": "quantitative"},
"text": {"field": "label"}
}
}
]
}
